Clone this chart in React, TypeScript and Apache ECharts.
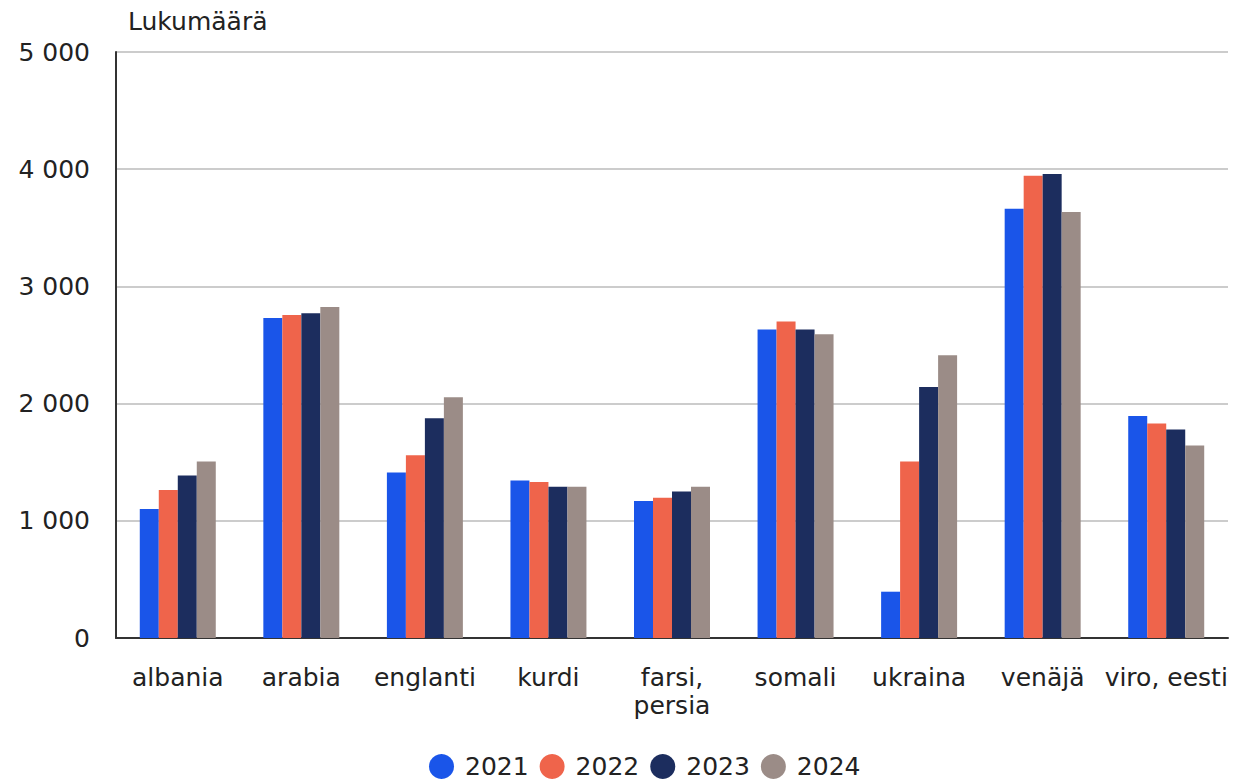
import React, { useEffect, useRef } from "react";
import * as echarts from "echarts";

const categories = ["albania", "arabia", "englanti", "kurdi", "farsi,\npersia", "somali", "ukraina", "venäjä", "viro, eesti"];
const years = ["2021", "2022", "2023", "2024"];
const values2021 = [1100, 2730, 1413, 1344, 1168, 2632, 395, 3663, 1895];
const values2022 = [1262, 2755, 1560, 1330, 1196, 2700, 1506, 3944, 1830];
const values2023 = [1387, 2770, 1875, 1290, 1251, 2632, 2142, 3958, 1779];
const values2024 = [1506, 2825, 2055, 1290, 1290, 2592, 2412, 3634, 1643];
const colors = ["#1a55e9", "#ef644b", "#1c2d5e", "#9b8c87"];
const yTicks = { min: 0, max: 5000, interval: 1000 };

const FONT = "DejaVu Sans";

export default function App() {
  const ref = useRef<HTMLDivElement>(null);
  useEffect(() => {
    if (!ref.current) return;
    const chart = echarts.init(ref.current, null, { renderer: "svg" });
    const seriesData = [values2021, values2022, values2023, values2024];
    chart.setOption({
      animation: false,
      textStyle: { fontFamily: FONT },
      title: {
        text: "Lukumäärä",
        left: 123,
        top: 4,
        textStyle: { fontFamily: FONT, fontSize: 25, fontWeight: "normal", color: "#222" },
      },
      grid: { left: 116, right: 10, top: 52, bottom: 146, containLabel: false },
      legend: {
        data: years,
        left: 429,
        top: 754,
        padding: 0,
        icon: "circle",
        itemWidth: 25,
        itemHeight: 25,
        itemGap: 11,
        textStyle: { fontFamily: FONT, fontSize: 25, color: "#222", padding: [0, 0, 0, 6] },
      },
      xAxis: {
        type: "category",
        data: categories,
        axisLine: { lineStyle: { color: "#333", width: 2 } },
        axisTick: { show: false },
        axisLabel: {
          fontFamily: FONT,
          fontSize: 25,
          color: "#222",
          margin: 25,
          lineHeight: 28,
          interval: 0,
        },
      },
      yAxis: {
        type: "value",
        min: yTicks.min,
        max: yTicks.max,
        interval: yTicks.interval,
        axisLine: { show: true, lineStyle: { color: "#333", width: 2 } },
        axisTick: { show: false },
        splitLine: { lineStyle: { color: "#cccccc", width: 2 } },
        axisLabel: {
          fontFamily: FONT,
          fontSize: 25,
          color: "#222",
          margin: 26,
          formatter: (v: number) => String(v).replace(/\B(?=(\d{3})+(?!\d))/g, " "),
        },
      },
      series: years.map((y, i) => ({
        name: y,
        type: "bar",
        data: seriesData[i],
        itemStyle: { color: colors[i] },
        barGap: "0%",
        barCategoryGap: "38.5%",
      })),
    });
    return () => chart.dispose();
  }, []);
  return <div ref={ref} style={{ width: 1238, height: 784, position: "absolute", left: 0, top: 0 }} />;
}
